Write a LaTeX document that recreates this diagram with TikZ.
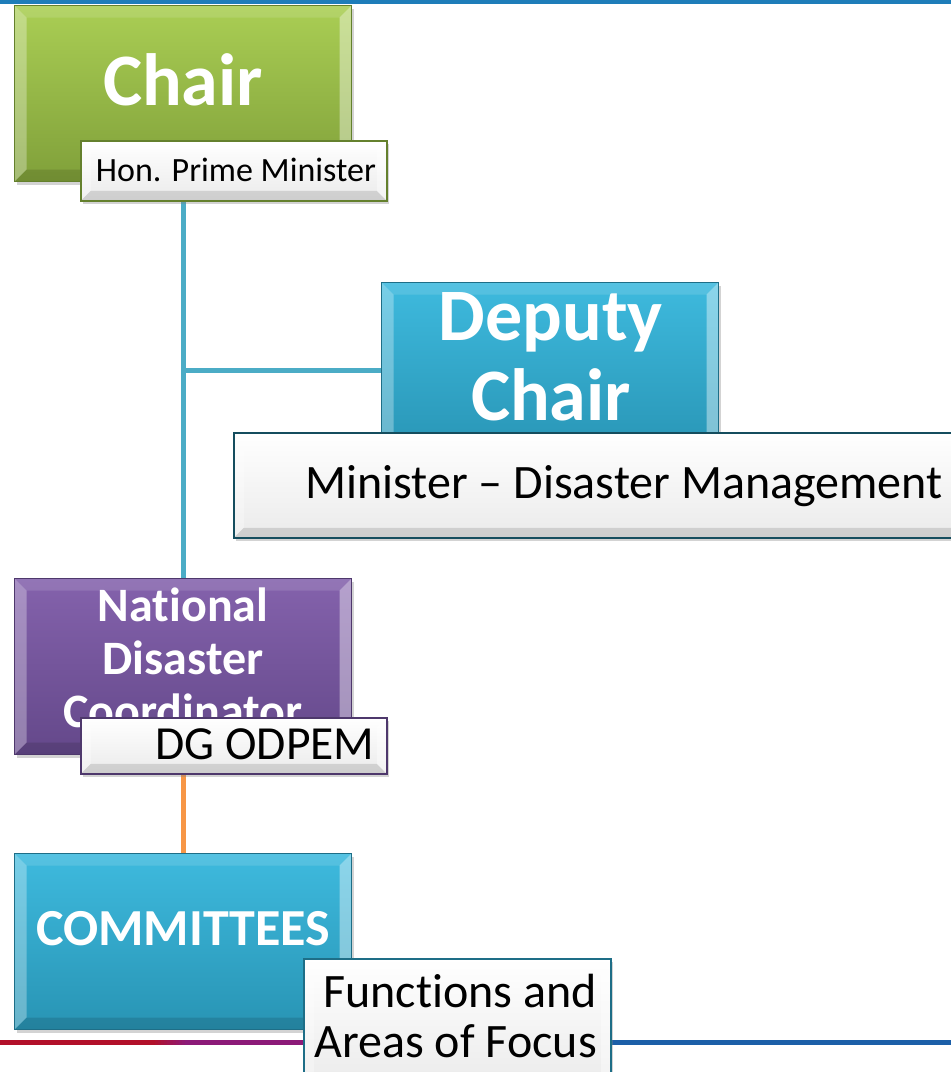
\documentclass[tikz,border=0pt]{standalone}
\usepackage{fontspec}
\setmainfont[Ligatures=NoCommon]{Carlito}
\usetikzlibrary{shadows,backgrounds,calc}
\definecolor{greenT}{RGB}{170,206,84}
\definecolor{greenB}{RGB}{128,160,58}
\definecolor{greenD}{RGB}{100,128,45}
\definecolor{tealT}{RGB}{62,186,222}
\definecolor{tealB}{RGB}{40,148,180}
\definecolor{tealD}{RGB}{30,110,135}
\definecolor{purpT}{RGB}{132,98,172}
\definecolor{purpB}{RGB}{100,72,138}
\definecolor{purpD}{RGB}{78,56,108}
\definecolor{connblue}{RGB}{75,172,198}
\definecolor{connorange}{RGB}{247,150,70}
\definecolor{topblue}{RGB}{30,125,185}
\definecolor{botred}{RGB}{178,16,42}
\definecolor{botpurple}{RGB}{140,26,120}
\definecolor{botblue}{RGB}{28,95,168}
\tikzset{
  bevel/.style={path picture={
    \coordinate (bNW) at (path picture bounding box.north west);
    \coordinate (bSE) at (path picture bounding box.south east);
    \coordinate (bNE) at (path picture bounding box.north east);
    \coordinate (bSW) at (path picture bounding box.south west);
    \fill[white,opacity=0.30] (bNW) -- (bSW) -- ([shift={(#1,-#1)}]bSW) -- ([shift={(#1,#1)}]bNW) -- cycle;
    \fill[white,opacity=0.40] (bNE) -- (bSE) -- ([shift={(-#1,-#1)}]bSE) -- ([shift={(-#1,#1)}]bNE) -- cycle;
    \fill[white,opacity=0.12] (bNW) -- (bNE) -- ([shift={(-#1,#1)}]bNE) -- ([shift={(#1,#1)}]bNW) -- cycle;
    \fill[black,opacity=0.12] (bSW) -- (bSE) -- ([shift={(-#1,-#1)}]bSE) -- ([shift={(#1,-#1)}]bSW) -- cycle;
  }},
  mainbox/.style n args={3}{draw=#3, line width=1pt, top color=#1, bottom color=#2,
    drop shadow={shadow xshift=2pt, shadow yshift=-3pt, opacity=0.35},
    bevel=12, anchor=north west, inner sep=0pt, minimum width=337pt, minimum height=176pt},
  labelbox/.style={draw=#1, line width=1.5pt, top color=white, bottom color=black!8,
    drop shadow={shadow xshift=2pt, shadow yshift=-3pt, opacity=0.35},
    bevel=10, anchor=north west, inner sep=0pt},
  bigtext/.style={text=white, font=\bfseries\fontsize{74}{80}\selectfont, align=center, inner sep=0pt},
  midtext/.style={text=white, font=\bfseries\fontsize{#1}{53}\selectfont, align=center, inner sep=0pt},
  labtext/.style={text=black, font=\fontsize{#1}{50}\selectfont, inner sep=0pt},
  conn/.style={draw=connblue, line width=5pt},
  conn2/.style={draw=connorange, line width=5pt},
}
\begin{document}
\begin{tikzpicture}[x=1pt,y=-1pt]
\useasboundingbox (0,0) rectangle (951,1072);
% decorative top and bottom rules
\draw[topblue, line width=4pt] (0,1.5) -- (951,1.5);
\draw[botred, line width=5pt] (0,1042) -- (152,1042);
\foreach \i in {0,...,11}{
  \pgfmathsetmacro{\mix}{100-\i*100/11}
  \draw[botred!\mix!botpurple, line width=5pt] (152+\i*3,1042) -- (155.5+\i*3,1042);
}
\draw[botpurple, line width=5pt] (188,1042) -- (310,1042);
\draw[botblue, line width=5pt] (605,1042) -- (951,1042);

% Chair
\node[mainbox={greenT}{greenB}{greenD}] (chair) at (14,5) {};
\node[bigtext] (chairtxt) at (183,80) {Chair};
\node[labelbox=greenD, minimum width=306pt, minimum height=60pt] (pm) at (80,140) {};
\node[labtext=34] (pmtxt) at (236,170) {Hon. Prime Minister};

% Deputy Chair
\node[mainbox={tealT}{tealB}{tealD}] (deputy) at (381,282) {};
\node[bigtext] (deputytxt) at (551,357) {Deputy\\Chair};
\node[labelbox=tealD!70!black, minimum width=730pt, minimum height=105pt] (minister) at (233,432) {};
\node[labtext=48] (ministertxt) at (624,486) {Minister – Disaster Management};

% National Disaster Coordinator
\node[mainbox={purpT}{purpB}{purpD}] (ndc) at (14,578) {};
\node[midtext=48] (ndctxt) at (183,658) {National\\Disaster\\Coordinator};
\node[labelbox=purpD, minimum width=306pt, minimum height=56pt] (dg) at (80,717) {};
\node[labtext=47.5] (dgtxt) at (265,744) {DG ODPEM};

% Committees
\node[mainbox={tealT}{tealB}{tealD}] (comm) at (14,853) {};
\node[midtext=52] (commtxt) at (183,929) {COMMITTEES};
\node[labelbox=tealD, minimum width=307pt, minimum height=130pt] (func) at (303,958) {};
\node[labtext=48, align=right, anchor=east] (functxt) at (597,1016) {Functions and\\Areas of Focus};

% connectors
\begin{scope}[on background layer]
\draw[conn] (chair.south) -- (ndc.north);
\draw[conn] (chair.south |- deputy.west) -- (deputy.west);
\draw[conn2] (ndc.south |- dg.south) -- (comm.north);
\end{scope}
\end{tikzpicture}
\end{document}
